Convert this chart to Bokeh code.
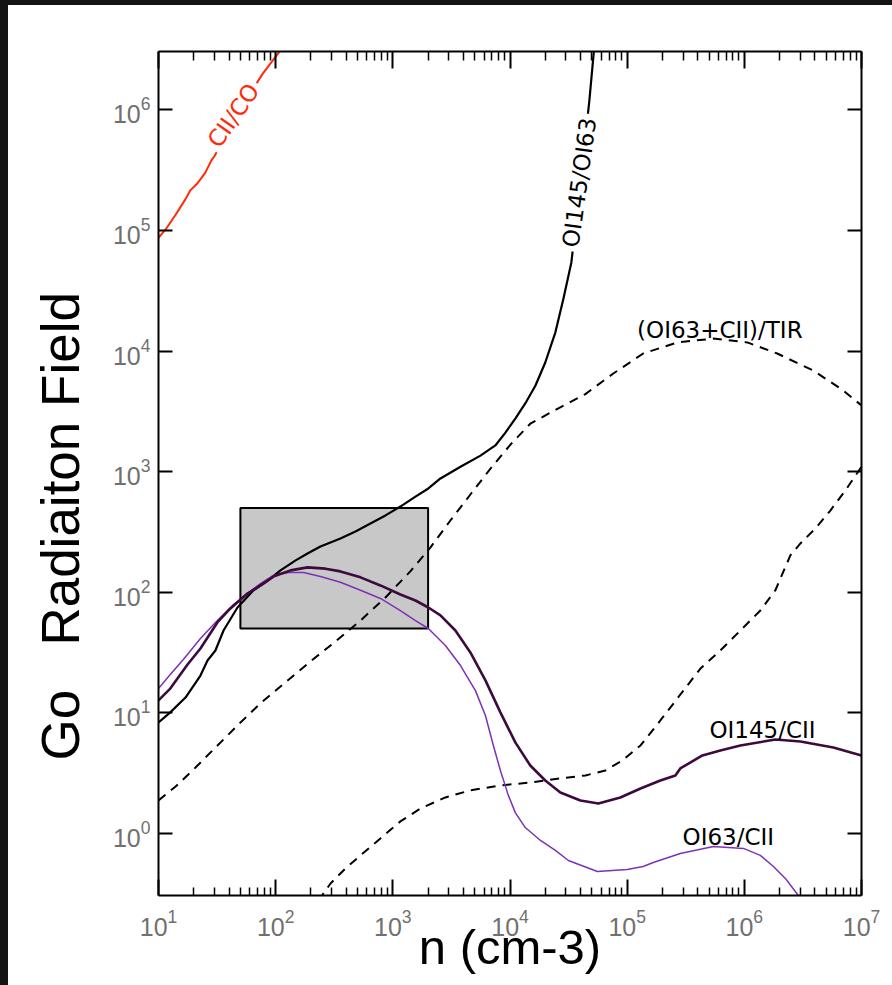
import math
from bokeh.plotting import figure
from bokeh.models import LogAxis, FixedTicker, Title, Spacer, CustomJSTickFormatter
from bokeh.layouts import column, row
from bokeh.core.properties import value
from bokeh.embed import file_html
from bokeh.resources import INLINE

# ---------------- data ----------------
x_ticks = [1e1, 1e2, 1e3, 1e4, 1e5, 1e6, 1e7]
y_ticks = [1e0, 1e1, 1e2, 1e3, 1e4, 1e5, 1e6]

# CII/CO (red)
cii_co_n = [10, 11.5, 14.0, 17.0, 18.6, 21.4, 25.1, 28.2, 30.2, 43.7, 77.6, 115]
cii_co_g = [8.7e4, 1.02e5, 1.35e5, 1.82e5, 2.14e5, 2.45e5, 3.02e5, 3.8e5, 4.17e5, 8.3e5, 2.0e6, 3.3e6]

# OI145/OI63 (black solid)
oi145_oi63_n = [10, 12.6, 17.0, 22.8, 26.2, 30.6, 35.9, 47.2, 64.7, 81.8, 110, 148, 187, 241,
                357, 480, 644, 865, 1160, 1560, 2010, 2550, 3780, 5600, 7500, 9140, 11100,
                13500, 16500, 20000, 24400, 28600, 33400, 39900, 47600, 52500]
oi145_oi63_g = [8.32, 10.1, 13.4, 20.4, 27.2, 32.9, 48.2, 74.8, 104, 121, 152, 184, 210, 240,
                279, 319, 372, 434, 514, 622, 726, 879, 1100, 1360, 1650, 2110, 2760,
                3680, 5190, 8040, 14300, 27300, 54300, 2.5e5, 1.2e6, 3.42e6]

# (OI63+CII)/TIR (black dashed)
tir_n = [10, 14.0, 20.7, 30.6, 50.1, 74.1, 121, 198, 324, 530, 865, 1410, 2090, 3100, 4590,
         6810, 10100, 14900, 24400, 44000, 76200, 137000, 268000, 545000, 1.06e6, 1.91e6,
         3.88e6, 7.0e6, 1.0e7]
tir_g = [1.88, 2.45, 3.52, 5.16, 8.32, 12.0, 17.9, 26.7, 39.1, 58.3, 90.6, 149, 235, 394, 647,
         1060, 1680, 2500, 3250, 4400, 6520, 9550, 11800, 12700, 11800, 9550, 6900, 4710, 3540]

# second dashed contour (unlabelled)
dash2_n = [232, 294, 394, 530, 783, 1160, 1720, 2810, 4590, 8280, 14900, 26900, 44000, 65200,
           91000, 130000, 192000, 302000, 422000, 624000, 925000, 1.37e6, 1.84e6, 2.47e6,
           3.01e6, 4.04e6, 5.42e6, 7.28e6, 1.0e7]
dash2_g = [0.278, 0.385, 0.513, 0.658, 0.910, 1.26, 1.61, 1.99, 2.28, 2.50, 2.65, 2.86, 3.03,
           3.33, 4.03, 5.37, 8.65, 15.3, 23.3, 32.9, 48.2, 70.6, 104, 202, 254, 338, 476, 698, 1100]

# OI145/CII (dark purple)
oi145_cii_n = [10, 12.6, 17.7, 22.8, 31.8, 41.1, 57.4, 74.1, 95.7, 134, 187, 266, 357, 530, 783,
               1160, 1560, 2010, 2550, 3420, 4590, 6170, 8280, 11100, 14900, 20000, 26900,
               39900, 56800, 87500, 130000, 192000, 258000, 284000, 439000, 624000, 925000,
               1.84e6, 3.01e6, 5.75e6, 1.0e7]
oi145_cii_g = [12.7, 15.9, 25.2, 34.2, 56.2, 73.5, 97.7, 114, 135, 152, 161, 157, 149, 133, 114,
               95.9, 85.5, 74.8, 64.3, 48.2, 31.7, 18.6, 10.1, 5.69, 3.66, 2.75, 2.19,
               1.88, 1.77, 1.99, 2.36, 2.75, 3.03, 3.46, 4.44, 4.88, 5.37,
               6.01, 5.79, 5.16, 4.44]

# OI63/CII (purple)
oi63_cii_n = [10, 12.6, 16.3, 22.8, 31.8, 42.8, 57.4, 74.1, 95.7, 129, 173, 241, 357, 530, 783,
              1160, 1560, 2010, 2810, 3780, 5070, 6170, 7210, 8280, 9680, 11100, 13500, 18200,
              24400, 31500, 55700, 100000, 137000, 167000, 284000, 545000, 982000, 1.37e6,
              1.77e6, 2.24e6, 2.89e6, 3.18e6]
oi63_cii_g = [15.9, 20.8, 27.7, 41.4, 58.3, 77.8, 97.7, 118, 138, 146, 146, 135, 121, 104, 88.9,
              70.6, 58.3, 50.1, 36.2, 24.7, 15.3, 9.51, 5.37, 3.33, 2.07, 1.49, 1.12, 0.875,
              0.723, 0.597, 0.484, 0.502, 0.532, 0.575, 0.682, 0.780, 0.752, 0.658,
              0.532, 0.424, 0.306, 0.268]

# observed region (grey box)
box_n = [50, 2000]
box_g = [50, 500]

# contour labels
label_texts = ["CII/CO", "OI145/OI63", "(OI63+CII)/TIR", "OI145/CII", "OI63/CII"]
x_title = "n (cm-3)"
y_title = "Go \u00a0 Radiaiton Field"

# ---------------- figure ----------------
p = figure(width=884, height=980, x_axis_type="log", y_axis_type="log",
           x_range=(1e1, 1e7), y_range=(0.306, 3.05e6),
           output_backend="svg", toolbar_location=None,
           min_border_left=150, min_border_right=31, min_border_top=46, min_border_bottom=90)
p.background_fill_color = "white"
p.border_fill_color = "white"
p.outline_line_color = None
p.xgrid.visible = False
p.ygrid.visible = False

minor_x = [m * t for t in x_ticks[:-1] for m in range(2, 10)]

def style_axis(ax, ticks, minor, tick_len, minor_len, show_labels, standoff):
    ax.ticker = FixedTicker(ticks=ticks, minor_ticks=minor)
    ax.axis_line_color = "black"
    ax.axis_line_width = 2
    ax.major_tick_in = tick_len
    ax.major_tick_out = 0
    ax.major_tick_line_width = 2
    ax.major_tick_line_color = "black"
    if minor:
        ax.minor_tick_in = minor_len
        ax.minor_tick_out = 0
        ax.minor_tick_line_width = 1.5
        ax.minor_tick_line_color = "black"
    else:
        ax.minor_tick_line_color = None
    if show_labels:
        ax.major_label_text_font = "Liberation Sans"
        ax.major_label_text_font_size = "25px"
        ax.major_label_text_color = "#707070"
        ax.major_label_standoff = standoff
    else:
        ax.formatter = CustomJSTickFormatter(code="return ''")
        ax.major_label_text_font_size = "2px"
        ax.major_label_text_color = None
        ax.major_label_standoff = 0

bottom_axis = p.xaxis[0]
left_axis = p.yaxis[0]
style_axis(bottom_axis, x_ticks, minor_x, 16, 8, True, 13)
style_axis(left_axis, y_ticks, [], 14, 0, True, 8)

# x-axis title
bottom_axis.axis_label = x_title
bottom_axis.axis_label_text_font = "Liberation Sans"
bottom_axis.axis_label_text_font_size = "49px"
bottom_axis.axis_label_text_font_style = "normal"
bottom_axis.axis_label_text_color = "black"
bottom_axis.axis_label_standoff = -19

top = LogAxis()
style_axis(top, x_ticks, minor_x, 17, 9, False, 0)
p.add_layout(top, "above")
right = LogAxis()
style_axis(right, y_ticks, [], 14, 0, False, 0)
p.add_layout(right, "right")

# y title (left side, rotated)
p.add_layout(Title(text=y_title, align="left", vertical_align="bottom", offset=135,
                   standoff=40, text_font="Liberation Sans", text_font_size="53px",
                   text_font_style="normal", text_color="black"), "left")

# grey box
p.quad(left=[box_n[0]], right=[box_n[1]], bottom=[box_g[0]], top=[box_g[1]],
       fill_color="#c8c8c8", line_color="black", line_width=2)

# curves
p.line(dash2_n, dash2_g, line_color="black", line_width=2, line_dash="9 7")
p.line(tir_n, tir_g, line_color="black", line_width=2, line_dash="9 7")
p.line(oi145_oi63_n, oi145_oi63_g, line_color="black", line_width=2.2, line_join="round")
p.line(oi63_cii_n, oi63_cii_g, line_color="#7d32b4", line_width=1.5, line_join="round")
p.line(oi145_cii_n, oi145_cii_g, line_color="#3c0a3c", line_width=2.6, line_join="round")
p.line(cii_co_n, cii_co_g, line_color="#ff2a0a", line_width=2, line_join="round")

lab_font = value("DejaVu Sans")
# inline labels (break the contour line)
p.text(x=[43.6], y=[8.99e5], text=[label_texts[0]], angle=math.radians(55),
       text_font=lab_font, text_font_size="23px", text_color="#ff2a0a",
       text_align="center", text_baseline="middle",
       background_fill_color="white", padding=4)
p.text(x=[39100], y=[2.5e5], text=[label_texts[1]], angle=math.radians(82),
       text_font=lab_font, text_font_size="23px", text_color="black",
       text_align="center", text_baseline="middle",
       background_fill_color="white", padding=4)
# labels above curves
p.text(x=[6.18e5], y=[15000], text=[label_texts[2]], text_font=lab_font,
       text_font_size="23px", text_color="black", text_align="center", text_baseline="alphabetic")
p.text(x=[1.43e6], y=[7.28], text=[label_texts[3]], text_font=lab_font,
       text_font_size="23px", text_color="black", text_align="center", text_baseline="alphabetic")
p.text(x=[7.3e5], y=[0.927], text=[label_texts[4]], text_font=lab_font,
       text_font_size="23px", text_color="black", text_align="center", text_baseline="alphabetic")

dark = "#141414"
layout = column(Spacer(width=892, height=5, styles={"background-color": dark}),
                row(Spacer(width=8, height=980, styles={"background-color": dark}), p))

open("out.html", "w").write(file_html(layout, INLINE))
